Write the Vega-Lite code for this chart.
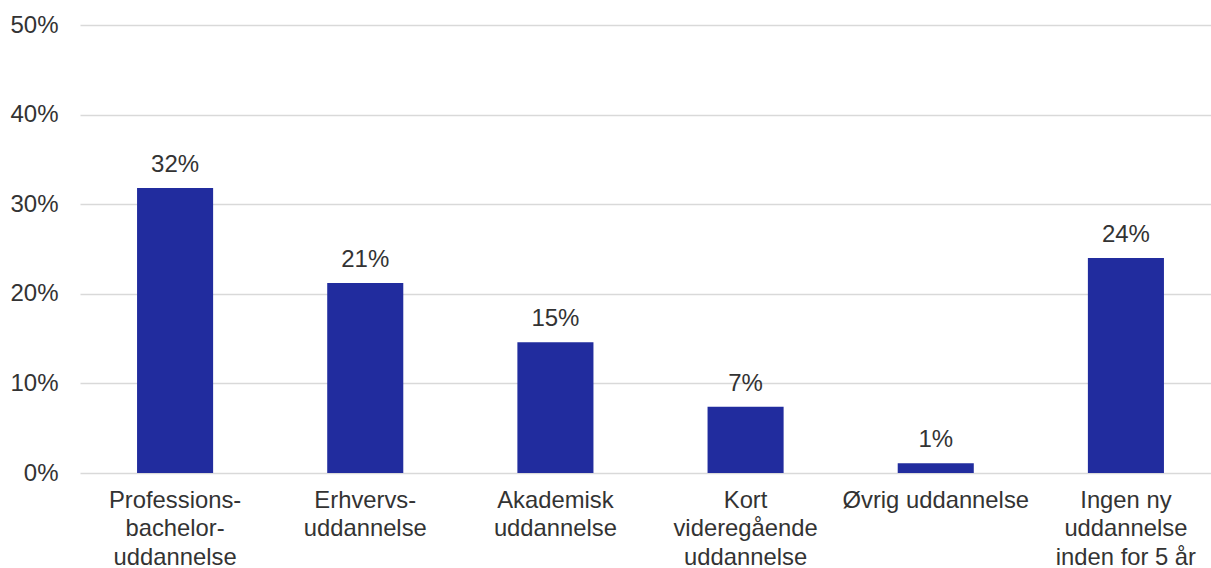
{
  "$schema": "https://vega.github.io/schema/vega-lite/v6.json",
  "width": 1141,
  "height": 448,
  "padding": {"left": 80, "top": 25, "right": 0, "bottom": 95},
  "autosize": {"type": "none"},
  "background": "white",
  "config": {"view": {"stroke": null}, "font": "Liberation Sans"},
  "data": {"values": [
    {"cat": "Professions-|bachelor-|uddannelse", "v": 0.318, "lab": "32%"},
    {"cat": "Erhvervs-|uddannelse", "v": 0.212, "lab": "21%"},
    {"cat": "Akademisk|uddannelse", "v": 0.146, "lab": "15%"},
    {"cat": "Kort|videregående|uddannelse", "v": 0.074, "lab": "7%"},
    {"cat": "Øvrig uddannelse", "v": 0.011, "lab": "1%"},
    {"cat": "Ingen ny|uddannelse|inden for 5 år", "v": 0.240, "lab": "24%"}
  ]},
  "encoding": {
    "x": {"field": "cat", "type": "nominal", "sort": null,
      "scale": {"paddingInner": 0.6, "paddingOuter": 0.3},
      "axis": {"title": null, "labelAngle": 0, "labelExpr": "split(datum.value, '|')",
        "labelFontSize": 23.8, "labelColor": "#333333", "labelLineHeight": 28.5, "labelPadding": 15,
        "ticks": false, "domain": false, "labelBaseline": "top", "labelLimit": 0}},
    "y": {"field": "v", "type": "quantitative",
      "scale": {"domain": [0, 0.5]},
      "axis": {"title": null, "format": ".0%", "values": [0, 0.1, 0.2, 0.3, 0.4, 0.5],
        "labelFontSize": 24, "labelColor": "#333333", "labelPadding": 22,
        "ticks": false, "domain": false, "gridColor": "#d9d9d9", "gridWidth": 1.5}}
  },
  "layer": [
    {"mark": {"type": "bar", "color": "#212C9E"}},
    {"mark": {"type": "text", "dy": -23, "fontSize": 24, "color": "#333333"},
     "encoding": {"text": {"field": "lab"}}}
  ]
}
